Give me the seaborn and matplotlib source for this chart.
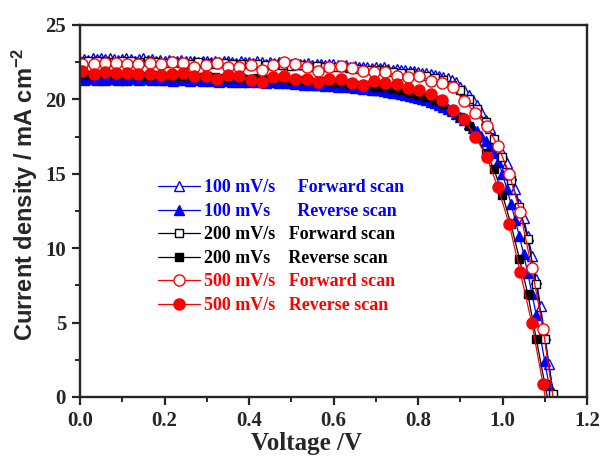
import matplotlib
matplotlib.use("Agg")
import matplotlib.pyplot as plt
import seaborn as sns
from matplotlib.ticker import MultipleLocator

# ---------------- data ----------------
V_100 = [0.00, 0.01, 0.02, 0.03, 0.04, 0.05, 0.06, 0.07, 0.08, 0.09,
         0.10, 0.11, 0.12, 0.13, 0.14, 0.15, 0.16, 0.17, 0.18, 0.19,
         0.20, 0.21, 0.22, 0.23, 0.24, 0.25, 0.26, 0.27, 0.28, 0.29,
         0.30, 0.31, 0.32, 0.33, 0.34, 0.35, 0.36, 0.37, 0.38, 0.39,
         0.40, 0.41, 0.42, 0.43, 0.44, 0.45, 0.46, 0.47, 0.48, 0.49,
         0.50, 0.51, 0.52, 0.53, 0.54, 0.55, 0.56, 0.57, 0.58, 0.59,
         0.60, 0.61, 0.62, 0.63, 0.64, 0.65, 0.66, 0.67, 0.68, 0.69,
         0.70, 0.71, 0.72, 0.73, 0.74, 0.75, 0.76, 0.77, 0.78, 0.79,
         0.80, 0.81, 0.82, 0.83, 0.84, 0.85, 0.86, 0.87, 0.88, 0.89,
         0.90, 0.91, 0.92, 0.93, 0.94, 0.95, 0.96, 0.97, 0.98, 0.99,
         1.00, 1.01, 1.02, 1.03, 1.04, 1.05, 1.06, 1.07, 1.08, 1.09,
         1.10, 1.11, 1.12]

J_100_fwd = [22.60, 22.70, 22.65, 22.75, 22.70, 22.80, 22.70, 22.75, 22.70, 22.65,
             22.70, 22.75, 22.70, 22.60, 22.70, 22.75, 22.65, 22.70, 22.60, 22.65,
             22.60, 22.65, 22.55, 22.60, 22.65, 22.60, 22.55, 22.60, 22.50, 22.55,
             22.60, 22.50, 22.55, 22.50, 22.60, 22.55, 22.50, 22.45, 22.55, 22.50,
             22.50, 22.45, 22.55, 22.50, 22.40, 22.50, 22.45, 22.50, 22.40, 22.45,
             22.40, 22.45, 22.35, 22.40, 22.45, 22.30, 22.40, 22.35, 22.30, 22.40,
             22.35, 22.30, 22.25, 22.30, 22.20, 22.25, 22.20, 22.15, 22.20, 22.10,
             22.15, 22.10, 22.15, 22.05, 22.00, 22.05, 21.95, 21.95, 21.90, 21.90,
             21.85, 21.80, 21.75, 21.70, 21.65, 21.60, 21.50, 21.45, 21.30, 21.15,
             20.85, 20.60, 20.30, 19.95, 19.60, 19.15, 18.60, 18.05, 17.40, 16.90,
             16.40, 15.70, 14.90, 14.00, 13.00, 12.00, 10.80, 9.50, 7.90, 6.10,
             4.20, 2.20, 0.30]

J_100_rev = [21.35, 21.30, 21.35, 21.40, 21.30, 21.35, 21.30, 21.40, 21.35, 21.30,
             21.35, 21.30, 21.40, 21.35, 21.30, 21.35, 21.40, 21.30, 21.35, 21.30,
             21.30, 21.35, 21.25, 21.30, 21.35, 21.30, 21.25, 21.30, 21.35, 21.25,
             21.30, 21.25, 21.30, 21.20, 21.25, 21.30, 21.20, 21.25, 21.20, 21.25,
             21.20, 21.25, 21.15, 21.20, 21.10, 21.20, 21.15, 21.10, 21.15, 21.10,
             21.10, 21.05, 21.10, 21.00, 21.05, 21.00, 20.95, 21.00, 20.90, 20.95,
             20.90, 20.85, 20.90, 20.80, 20.85, 20.75, 20.80, 20.70, 20.75, 20.65,
             20.60, 20.60, 20.55, 20.50, 20.45, 20.40, 20.35, 20.30, 20.20, 20.15,
             20.10, 20.05, 19.95, 19.85, 19.75, 19.65, 19.50, 19.35, 19.20, 19.00,
             18.80, 18.60, 18.35, 18.10, 17.85, 17.55, 17.20, 16.85, 16.40, 15.80,
             15.00, 14.00, 13.00, 11.90, 10.80, 9.60, 8.30, 6.90, 5.50, 4.00,
             2.40, 0.80, -0.80]

V_200 = [0.00, 0.02, 0.04, 0.06, 0.08, 0.10, 0.12, 0.14, 0.16, 0.18,
         0.20, 0.22, 0.24, 0.26, 0.28, 0.30, 0.32, 0.34, 0.36, 0.38,
         0.40, 0.42, 0.44, 0.46, 0.48, 0.50, 0.52, 0.54, 0.56, 0.58,
         0.60, 0.62, 0.64, 0.66, 0.68, 0.70, 0.72, 0.74, 0.76, 0.78,
         0.80, 0.82, 0.84, 0.86, 0.88, 0.90, 0.92, 0.94, 0.96, 0.98,
         1.00, 1.02, 1.04, 1.06, 1.08, 1.10, 1.12]

J_200_fwd = [22.50, 22.60, 22.55, 22.60, 22.50, 22.55, 22.60, 22.50, 22.55, 22.50,
             22.45, 22.50, 22.45, 22.40, 22.50, 22.45, 22.40, 22.45, 22.40, 22.35,
             22.40, 22.35, 22.30, 22.35, 22.30, 22.25, 22.30, 22.20, 22.25, 22.20,
             22.15, 22.20, 22.10, 22.05, 22.00, 21.95, 21.95, 21.85, 21.80, 21.75,
             21.65, 21.55, 21.45, 21.30, 21.00, 20.60, 20.05, 19.35, 18.45, 17.35,
             16.10, 14.60, 12.80, 10.60, 7.60, 3.90, 0.20]

J_200_rev = [21.70, 21.65, 21.70, 21.75, 21.70, 21.65, 21.70, 21.65, 21.60, 21.65,
             21.60, 21.55, 21.60, 21.55, 21.50, 21.55, 21.50, 21.45, 21.50, 21.45,
             21.40, 21.45, 21.35, 21.40, 21.35, 21.30, 21.30, 21.25, 21.20, 21.25,
             21.15, 21.10, 21.05, 21.00, 20.95, 20.85, 20.80, 20.70, 20.60, 20.45,
             20.30, 20.15, 19.95, 19.70, 19.30, 18.80, 18.20, 17.40, 16.40, 15.30,
             13.60, 11.60, 9.30, 6.90, 3.90, 0.90, -2.00]

V_500 = [0.005, 0.032, 0.058, 0.085, 0.111, 0.138, 0.165, 0.191, 0.218, 0.244,
         0.271, 0.298, 0.324, 0.351, 0.377, 0.404, 0.431, 0.457, 0.484, 0.510,
         0.537, 0.564, 0.590, 0.617, 0.643, 0.670, 0.697, 0.723, 0.750, 0.776,
         0.803, 0.830, 0.856, 0.883, 0.909, 0.936, 0.963, 0.989, 1.016, 1.042,
         1.069, 1.096, 1.122]

J_500_fwd = [22.40, 22.38, 22.47, 22.43, 22.38, 22.38, 22.43, 22.38, 22.51, 22.43,
             22.20, 22.29, 22.43, 22.20, 22.16, 22.30, 22.00, 22.30, 22.50, 22.36,
             22.15, 21.90, 22.20, 22.24, 22.10, 21.93, 21.86, 21.86, 21.57, 21.50,
             21.60, 21.26, 21.12, 20.80, 19.90, 19.10, 18.20, 16.90, 15.00, 12.40,
             8.70, 4.60, -0.50]

J_500_rev = [21.90, 21.70, 21.85, 21.80, 21.75, 21.70, 21.70, 21.65, 21.70, 21.75,
             21.55, 21.55, 21.35, 21.65, 21.55, 21.30, 21.20, 21.50, 21.55, 21.35,
             21.35, 21.20, 21.40, 21.40, 21.10, 21.00, 21.25, 21.10, 21.05, 20.75,
             20.60, 20.35, 19.95, 19.30, 18.65, 17.50, 16.10, 14.10, 11.60, 8.40,
             5.00, 0.85, -3.50]

labels = ["100 mV/s     Forward scan",
          "100 mVs      Reverse scan",
          "200 mV/s   Forward scan",
          "200 mVs    Reverse scan",
          "500 mV/s   Forward scan",
          "500 mV/s   Reverse scan"]

# ---------------- style ----------------
sns.set_style("ticks")
plt.rcParams["font.family"] = ["Liberation Serif", "DejaVu Serif"]
plt.rcParams["font.weight"] = "bold"
plt.rcParams["mathtext.default"] = "regular"

fig = plt.figure(figsize=(6.03, 4.59), dpi=100)
ax = fig.add_axes([80 / 603, 1 - 397 / 459, 507 / 603, 372 / 459])

BLUE = "#0000ff"
RED = "#ff0000"
BLACK = "#000000"

series = [
    (V_100, J_100_fwd, BLUE, "^", "white", 6.5),
    (V_100, J_100_rev, BLUE, "^", BLUE, 6.5),
    (V_200, J_200_fwd, BLACK, "s", "white", 6.0),
    (V_200, J_200_rev, BLACK, "s", BLACK, 6.0),
    (V_500, J_500_fwd, RED, "o", "white", 8.0),
    (V_500, J_500_rev, RED, "o", RED, 8.0),
]

for (x, y, c, m, fc, ms), lab in zip(series, labels):
    sns.lineplot(x=x, y=y, ax=ax, sort=False, estimator=None, color=c,
                 linewidth=0.9, marker=m, markersize=ms,
                 markerfacecolor=fc, markeredgecolor=c, markeredgewidth=1.0,
                 label=lab)

ax.set_xlim(0, 1.2)
ax.set_ylim(0, 25)
ax.xaxis.set_major_locator(MultipleLocator(0.2))
ax.xaxis.set_minor_locator(MultipleLocator(0.1))
ax.yaxis.set_major_locator(MultipleLocator(5))
ax.yaxis.set_minor_locator(MultipleLocator(2.5))
ax.set_xticklabels([f"{v:.1f}" for v in ax.get_xticks()])

for s in ax.spines.values():
    s.set_linewidth(1.7)
    s.set_visible(True)
ax.tick_params(which="major", direction="out", length=6, width=1.6,
               labelsize=15, pad=4, top=False, right=False)
ax.tick_params(which="minor", direction="out", length=3.5, width=1.4,
               top=False, right=False)
for t in ax.get_xticklabels() + ax.get_yticklabels():
    t.set_fontweight("bold")

ax.set_xlabel("Voltage /V", fontsize=18, fontweight="bold")
ax.xaxis.set_label_coords(0.446, -0.094)
ax.set_ylabel("Current density / mA cm$^{-2}$", fontsize=17,
              fontweight="bold", family=["Liberation Sans", "DejaVu Sans"])
ax.yaxis.set_label_coords(-0.079, 0.545)

leg = ax.legend(loc="upper left", bbox_to_anchor=(0.1538, 0.585),
                frameon=False, fontsize=13, handlelength=2.3,
                handletextpad=0.25, labelspacing=0.36, borderpad=0,
                borderaxespad=0)
colors = [BLUE, BLUE, BLACK, BLACK, RED, RED]
for t, c in zip(leg.get_texts(), colors):
    t.set_color(c)
    t.set_fontweight("bold")

fig.savefig("out.png", dpi=100)
